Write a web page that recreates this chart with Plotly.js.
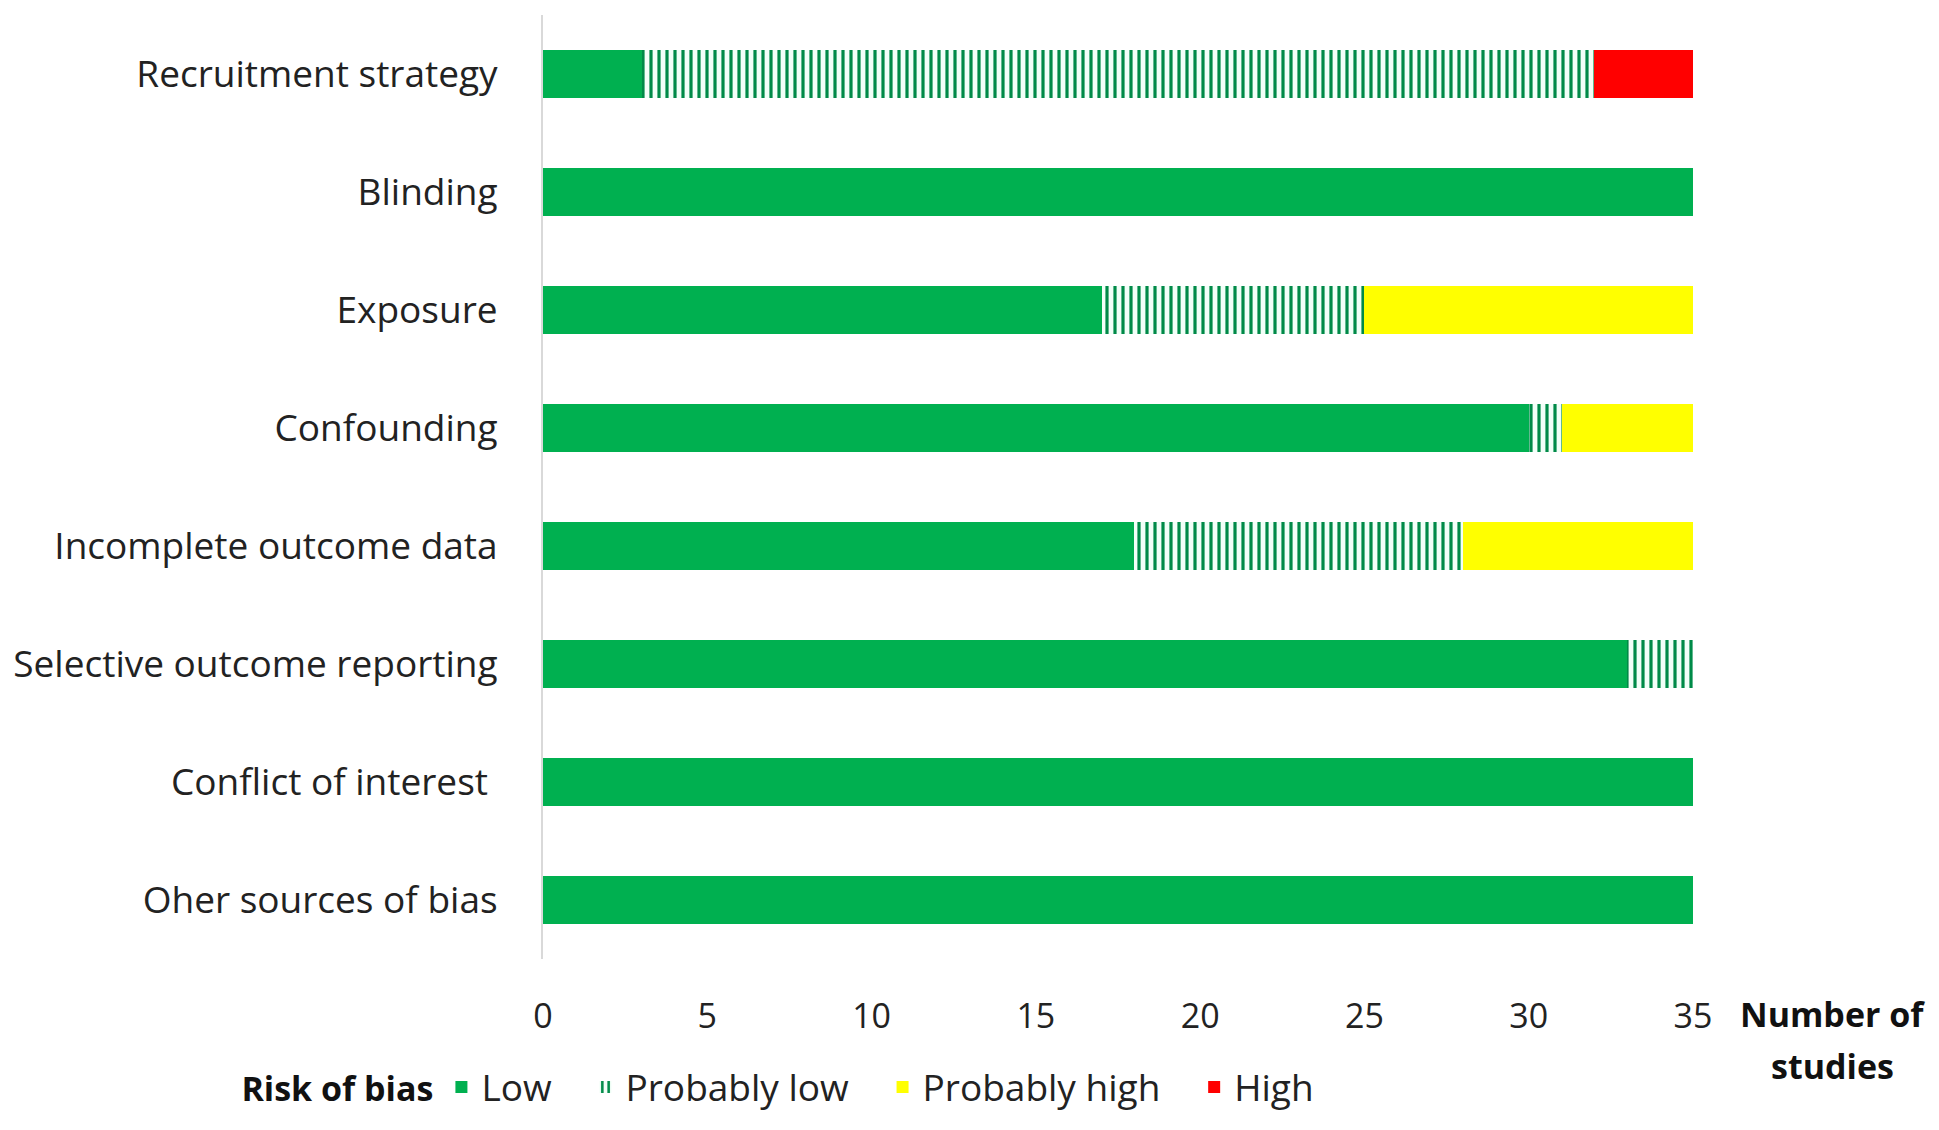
<!DOCTYPE html>
<html>
<head>
<meta charset="utf-8">
<script src="https://cdn.plot.ly/plotly-3.0.1.min.js"></script>
<style>
html,body{margin:0;padding:0;background:#fff;}
#chart{width:1939px;height:1130px;}
</style>
</head>
<body>
<div id="chart"></div>
<script>
const categories = ["Recruitment strategy","Blinding","Exposure","Confounding","Incomplete outcome data","Selective outcome reporting","Conflict of interest ","Oher sources of bias"];
const seriesNames = ["Low","Probably low","Probably high","High"];
const low          = [3, 35, 17, 30, 18, 33, 35, 35];
const probablyLow  = [29, 0, 8, 1, 10, 2, 0, 0];
const probablyHigh = [0, 0, 10, 4, 7, 0, 0, 0];
const high         = [3, 0, 0, 0, 0, 0, 0, 0];
const xTicks = [0, 5, 10, 15, 20, 25, 30, 35];

const FONT = "Open Sans, Noto Sans, sans-serif";
const PAD = '\u00a0\u00a0\u00a0';

const traces = [
  {type:'bar', orientation:'h', name:seriesNames[0] + PAD, y:categories, x:low,
   marker:{color:'#00B050'}},
  {type:'bar', orientation:'h', name:seriesNames[1] + PAD, y:categories, x:probablyLow,
   marker:{color:'#ffffff', pattern:{shape:'|', fgcolor:'#008a48', bgcolor:'#f2fff8', size:8, solidity:0.4}}},
  {type:'bar', orientation:'h', name:seriesNames[2] + PAD, y:categories, x:probablyHigh,
   marker:{color:'#FFFF00'}},
  {type:'bar', orientation:'h', name:seriesNames[3], y:categories, x:high,
   marker:{color:'#FF0000'}}
];

const layout = {
  width:1939, height:1130,
  paper_bgcolor:'#fff', plot_bgcolor:'#fff',
  margin:{l:543, r:246, t:15, b:152},
  barmode:'stack',
  bargap:0.6,
  font:{family:FONT, size:37, color:'#222'},
  showlegend:true,
  hovermode:false,
  xaxis:{
    range:[0,35], tickvals:xTicks, ticktext:xTicks.map(String),
    showgrid:false, zeroline:false, showline:false, ticks:'',
    ticklabelstandoff:34,
    tickfont:{family:FONT, size:34, color:'#222'}
  },
  yaxis:{
    type:'category', autorange:'reversed',
    showgrid:false, zeroline:false, ticks:'',
    showline:true, linecolor:'#d9d9d9', linewidth:2,
    ticklabelstandoff:36,
    tickfont:{family:FONT, size:37, color:'#222'}
  },
  legend:{
    orientation:'h', x:-0.264, xanchor:'left', y:-0.136, yanchor:'middle',
    title:{text:'<b>Risk of bias</b>', side:'left', font:{family:FONT, size:34, color:'#111'}},
    font:{family:FONT, size:37, color:'#222'},
    traceorder:'normal', itemsizing:'constant', itemwidth:30,
    bgcolor:'rgba(0,0,0,0)'
  },
  annotations:[
    {xref:'paper', yref:'paper', x:1.1217, y:-0.058, xanchor:'center', yanchor:'middle',
     text:'<b>Number of</b>', showarrow:false,
     font:{family:FONT, size:34, color:'#111'}},
    {xref:'paper', yref:'paper', x:1.1217, y:-0.113, xanchor:'center', yanchor:'middle',
     text:'<b>studies</b>', showarrow:false,
     font:{family:FONT, size:34, color:'#111'}}
  ]
};

Plotly.newPlot('chart', traces, layout, {displayModeBar:false, staticPlot:true});
</script>
</body>
</html>
